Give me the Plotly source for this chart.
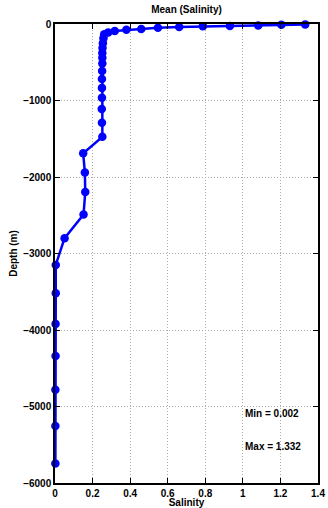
import plotly.graph_objects as go

# Mean salinity profile: value at each model depth (m)
depth = [-5, -10, -20, -25, -30, -40, -50, -65, -75, -90, -110, -135,
         -185, -250, -315, -380, -440, -515, -615, -720, -835, -965,
         -1110, -1290, -1475, -1690, -1940, -2195, -2490, -2800,
         -3150, -3520, -3920, -4340, -4780, -5255, -5745]
salinity = [1.332, 1.205, 1.082, 0.931, 0.787, 0.661, 0.548, 0.459, 0.380,
            0.318, 0.283, 0.262,
            0.258, 0.255, 0.253, 0.252, 0.252, 0.252, 0.251, 0.250, 0.250,
            0.250, 0.249, 0.250, 0.252, 0.150, 0.159, 0.161, 0.152, 0.051,
            0.004, 0.004, 0.003, 0.003, 0.002, 0.002, 0.002]

x_ticks = [0, 0.2, 0.4, 0.6, 0.8, 1.0, 1.2, 1.4]
x_tick_text = ["0", "0.2", "0.4", "0.6", "0.8", "1", "1.2", "1.4"]
y_ticks = [0, -1000, -2000, -3000, -4000, -5000, -6000]

stat_labels = ["Min = %.3f" % min(salinity), "Max = %.3f" % max(salinity)]
stat_depths = [-5085, -5520]

FONT = "Liberation Sans, Arial, Helvetica, sans-serif"

fig = go.Figure()
fig.add_trace(go.Scatter(
    x=salinity, y=depth, mode="lines+markers",
    line=dict(color="rgb(0,0,255)", width=2.5),
    marker=dict(color="rgb(0,0,255)", size=8.5),
    showlegend=False, cliponaxis=False,
))

for txt, yv in zip(stat_labels, stat_depths):
    fig.add_annotation(x=1.0, y=yv, text="<b>%s</b>" % txt, showarrow=False,
                       xanchor="left", yanchor="middle",
                       font=dict(family=FONT, size=10, color="black"))

axis_common = dict(
    showline=True, linecolor="black", linewidth=1.5, mirror="ticks",
    ticks="inside", ticklen=5, tickwidth=1, tickcolor="black",
    showgrid=True, gridcolor="rgb(170,170,170)", griddash="1px,2px", gridwidth=1,
    zeroline=False, automargin=False,
    tickfont=dict(family=FONT, size=10, color="black", weight="bold"),
)

fig.update_xaxes(range=[0, 1.4], tickvals=x_ticks, ticktext=x_tick_text,
                 title=dict(text="<b>Salinity</b>", standoff=1,
                            font=dict(family=FONT, size=10, color="black")),
                 **axis_common)
fig.update_yaxes(range=[-6000, 0], tickvals=y_ticks,
                 title=dict(text="<b>Depth (m)</b>", standoff=4,
                            font=dict(family=FONT, size=10, color="black")),
                 **axis_common)

fig.update_layout(
    width=328, height=508,
    margin=dict(l=55, r=10, t=24, b=25),
    paper_bgcolor="white", plot_bgcolor="white",
    title=dict(text="<b>Mean (Salinity)</b>", x=0.5, xref="paper",
               y=1, yref="container", yanchor="top", pad=dict(t=6),
               font=dict(family=FONT, size=10, color="black")),
)

fig.write_html("out.html")
